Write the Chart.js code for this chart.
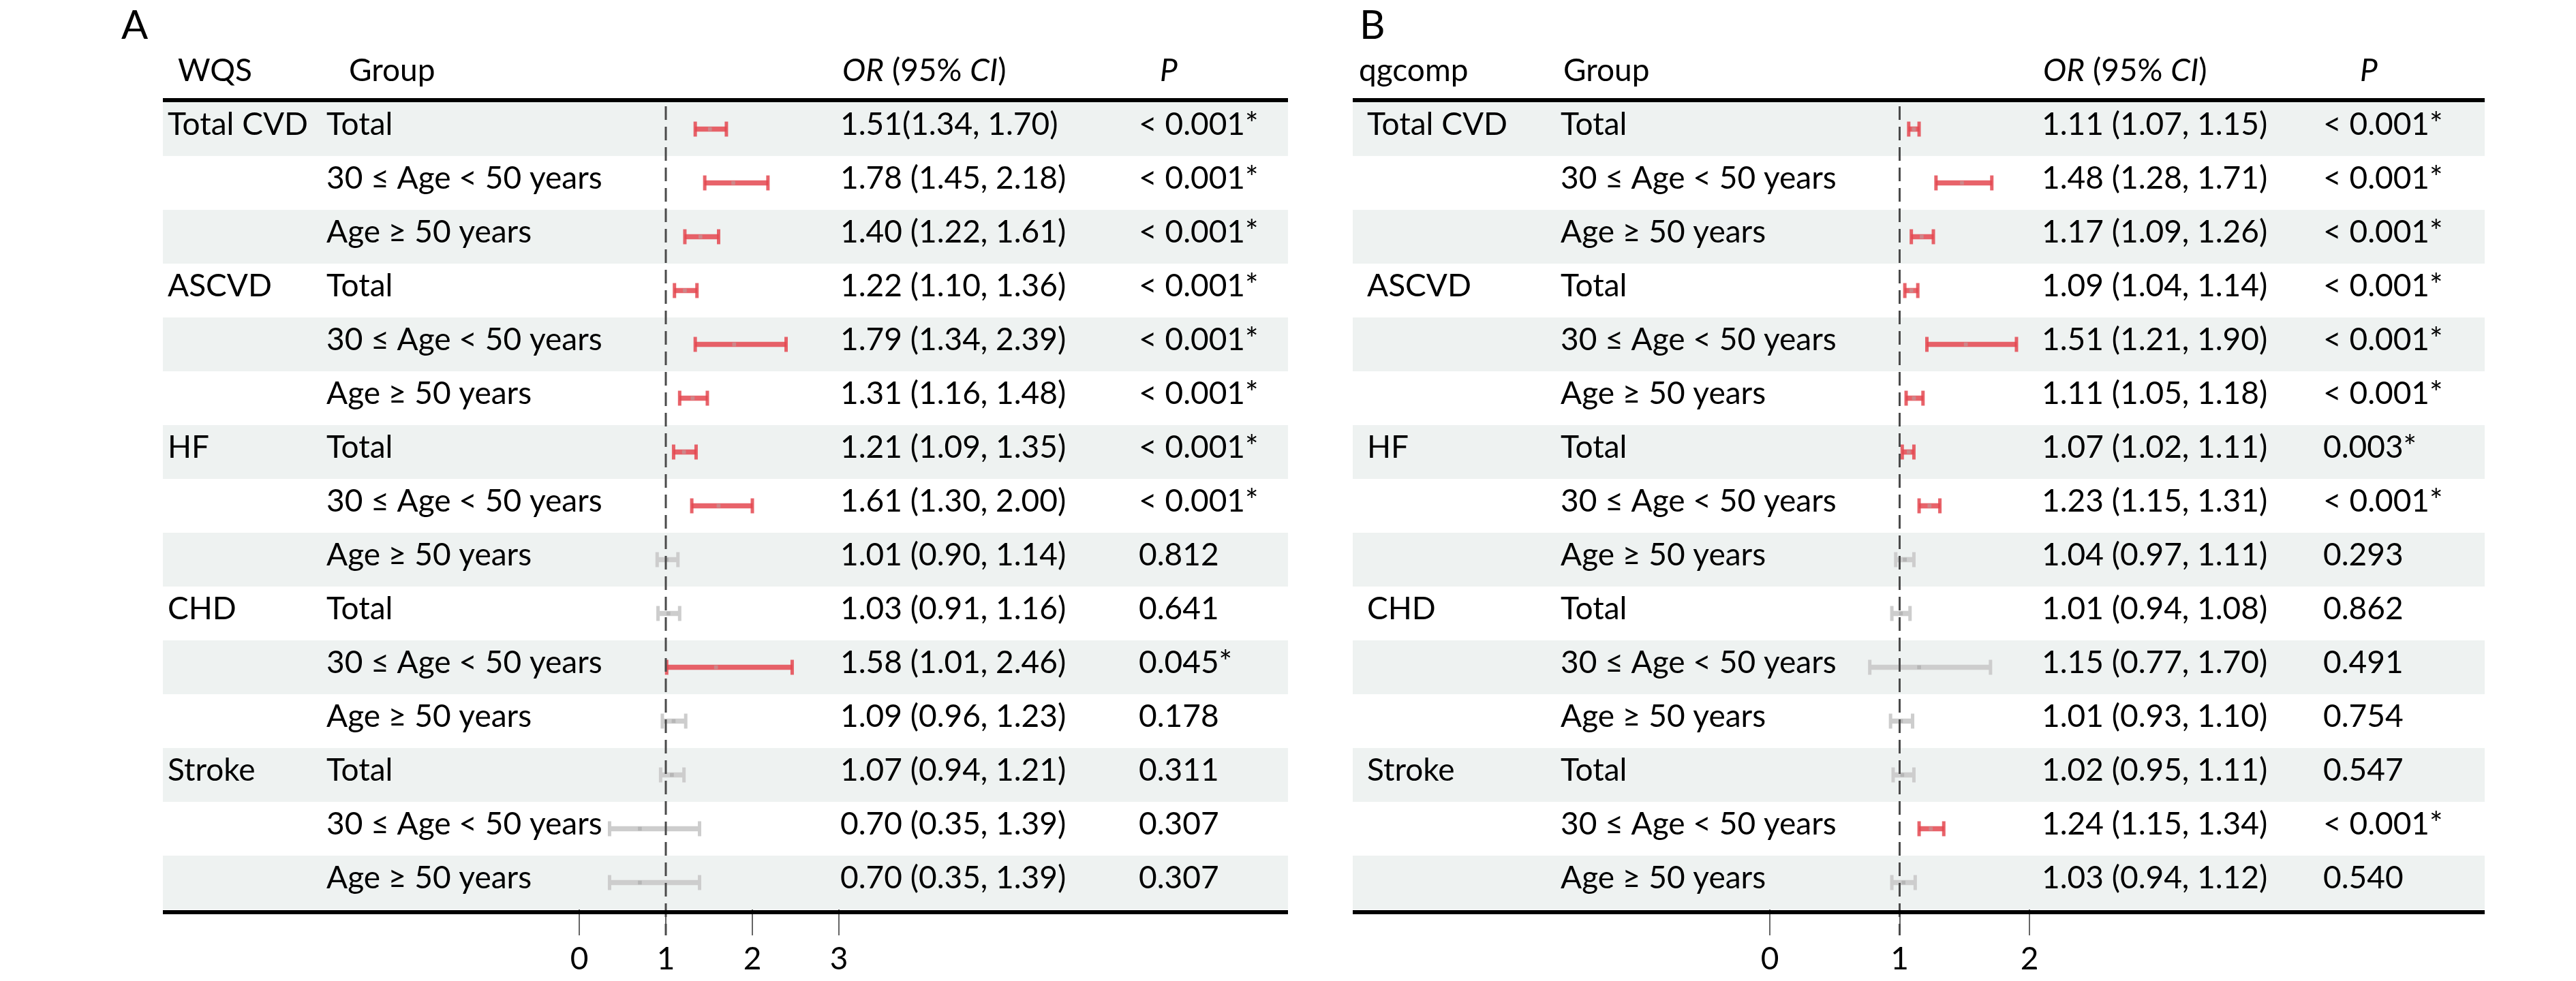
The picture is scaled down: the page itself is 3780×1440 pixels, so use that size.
<!DOCTYPE html>
<html>
<head>
<meta charset="utf-8">
<script src="https://cdn.jsdelivr.net/npm/chart.js@4.4.1/dist/chart.umd.min.js"></script>
<style>
  html, body { margin: 0; padding: 0; background: #fff; }
  #wrap { position: relative; width: 3780px; height: 1440px; }
  canvas { position: absolute; top: 0; }
</style>
</head>
<body>
<div id="wrap">
  <canvas id="chartA" width="1890" height="1440" style="left:0px"></canvas>
  <canvas id="chartB" width="1890" height="1440" style="left:1890px"></canvas>
</div>
<script>
// rows of the table (same for both panels)
const outcomes = ['Total CVD', '', '', 'ASCVD', '', '', 'HF', '', '', 'CHD', '', '', 'Stroke', '', ''];
const groups = [
  'Total', '30 ≤ Age < 50 years', 'Age ≥ 50 years',
  'Total', '30 ≤ Age < 50 years', 'Age ≥ 50 years',
  'Total', '30 ≤ Age < 50 years', 'Age ≥ 50 years',
  'Total', '30 ≤ Age < 50 years', 'Age ≥ 50 years',
  'Total', '30 ≤ Age < 50 years', 'Age ≥ 50 years'
];

// A: WQS
const wqsOR   = [1.51, 1.78, 1.40, 1.22, 1.79, 1.31, 1.21, 1.61, 1.01, 1.03, 1.58, 1.09, 1.07, 0.70, 0.70];
const wqsLow  = [1.34, 1.45, 1.22, 1.10, 1.34, 1.16, 1.09, 1.30, 0.90, 0.91, 1.01, 0.96, 0.94, 0.35, 0.35];
const wqsHigh = [1.70, 2.18, 1.61, 1.36, 2.39, 1.48, 1.35, 2.00, 1.14, 1.16, 2.46, 1.23, 1.21, 1.39, 1.39];
const wqsText = ['1.51(1.34, 1.70)', '1.78 (1.45, 2.18)', '1.40 (1.22, 1.61)', '1.22 (1.10, 1.36)',
  '1.79 (1.34, 2.39)', '1.31 (1.16, 1.48)', '1.21 (1.09, 1.35)', '1.61 (1.30, 2.00)', '1.01 (0.90, 1.14)',
  '1.03 (0.91, 1.16)', '1.58 (1.01, 2.46)', '1.09 (0.96, 1.23)', '1.07 (0.94, 1.21)', '0.70 (0.35, 1.39)',
  '0.70 (0.35, 1.39)'];
const wqsP = ['< 0.001*', '< 0.001*', '< 0.001*', '< 0.001*', '< 0.001*', '< 0.001*', '< 0.001*', '< 0.001*',
  '0.812', '0.641', '0.045*', '0.178', '0.311', '0.307', '0.307'];
const wqsTicks = [0, 1, 2, 3];

// B: qgcomp
const qgOR   = [1.11, 1.48, 1.17, 1.09, 1.51, 1.11, 1.07, 1.23, 1.04, 1.01, 1.15, 1.01, 1.02, 1.24, 1.03];
const qgLow  = [1.07, 1.28, 1.09, 1.04, 1.21, 1.05, 1.02, 1.15, 0.97, 0.94, 0.77, 0.93, 0.95, 1.15, 0.94];
const qgHigh = [1.15, 1.71, 1.26, 1.14, 1.90, 1.18, 1.11, 1.31, 1.11, 1.08, 1.70, 1.10, 1.11, 1.34, 1.12];
const qgText = ['1.11 (1.07, 1.15)', '1.48 (1.28, 1.71)', '1.17 (1.09, 1.26)', '1.09 (1.04, 1.14)',
  '1.51 (1.21, 1.90)', '1.11 (1.05, 1.18)', '1.07 (1.02, 1.11)', '1.23 (1.15, 1.31)', '1.04 (0.97, 1.11)',
  '1.01 (0.94, 1.08)', '1.15 (0.77, 1.70)', '1.01 (0.93, 1.10)', '1.02 (0.95, 1.11)', '1.24 (1.15, 1.34)',
  '1.03 (0.94, 1.12)'];
const qgP = ['< 0.001*', '< 0.001*', '< 0.001*', '< 0.001*', '< 0.001*', '< 0.001*', '0.003*', '< 0.001*',
  '0.293', '0.862', '0.491', '0.754', '0.547', '< 0.001*', '0.540'];
const qgTicks = [0, 1, 2];

const FONT = 'Lato';
const FS = 46;
const RED = 'rgba(228, 72, 80, 0.85)';
const RED_PT = 'rgba(205, 135, 138, 1)';
const GREY = 'rgba(205, 205, 205, 1)';
const GREY_PT = 'rgba(182, 182, 182, 1)';
const W = 1890, H = 1440;
const TOP = 150, BOTTOM = 1335;   // table body
const AXIS_H = 100;

// layout of the two panels (absolute page pixels)
const panels = [
  { id: 'chartA', offset: 0, letter: 'A', method: 'WQS',
    est: wqsOR, low: wqsLow, high: wqsHigh, text: wqsText, p: wqsP, ticks: wqsTicks,
    tableL: 239, tableR: 1898, plotL: 850, plotR: 1231,
    xOut: 246, xGroup: 479, xHeadMethod: 261, xHeadGroup: 512,
    xOR: 1233, xHeadOR: 1236, xP: 1671, xHeadP: 1702, xLetter: 178 },
  { id: 'chartB', offset: 1890, letter: 'B', method: 'qgcomp',
    est: qgOR, low: qgLow, high: qgHigh, text: qgText, p: qgP, ticks: qgTicks,
    tableL: 1985, tableR: 3646, plotL: 2597, plotR: 2978,
    xOut: 2006, xGroup: 2290, xHeadMethod: 1994, xHeadGroup: 2294,
    xOR: 2996, xHeadOR: 2998, xP: 3409, xHeadP: 3463, xLetter: 1995 }
];

function drawParts(ctx, parts, x, y) {
  let cx = x;
  parts.forEach(([t, it]) => {
    ctx.font = (it ? 'italic ' : '') + FS + 'px ' + FONT;
    ctx.fillText(t, cx, y);
    cx += ctx.measureText(t).width;
  });
}

function tablePlugin(pn) {
  const o = pn.offset;
  const n = pn.est.length;
  const rowH = (BOTTOM - TOP) / n;
  return {
    id: 'table_' + pn.id,
    beforeDraw(chart) {
      const ctx = chart.ctx;
      ctx.save();
      ctx.fillStyle = '#EEF2F1';
      for (let i = 0; i < n; i += 2) {
        ctx.fillRect(pn.tableL - o, TOP + i * rowH, pn.tableR - pn.tableL, rowH);
      }
      ctx.restore();
    },
    afterDatasetsDraw(chart) {
      const ctx = chart.ctx;
      const xs = chart.scales.x;
      const x1 = xs.getPixelForValue(1);
      ctx.save();
      ctx.strokeStyle = '#4a4a4a';
      ctx.lineWidth = 3;
      ctx.setLineDash([20, 10]);
      ctx.beginPath();
      ctx.moveTo(x1, TOP + 6);
      ctx.lineTo(x1, BOTTOM + 38);
      ctx.stroke();
      ctx.restore();
    },
    afterDraw(chart) {
      const ctx = chart.ctx;
      ctx.save();
      ctx.fillStyle = '#000';
      ctx.textBaseline = 'alphabetic';
      ctx.textAlign = 'left';
      // panel letter
      ctx.font = '58px ' + FONT;
      ctx.fillText(pn.letter, pn.xLetter - o, 57);
      // header
      ctx.font = FS + 'px ' + FONT;
      ctx.fillText(pn.method, pn.xHeadMethod - o, 119);
      ctx.fillText('Group', pn.xHeadGroup - o, 119);
      drawParts(ctx, [['OR', true], [' (95% ', false], ['CI', true], [')', false]], pn.xHeadOR - o, 119);
      drawParts(ctx, [['P', true]], pn.xHeadP - o, 119);
      // body
      ctx.font = FS + 'px ' + FONT;
      for (let i = 0; i < n; i++) {
        const yb = TOP + i * rowH + 48;
        ctx.fillText(outcomes[i], pn.xOut - o, yb);
        ctx.fillText(groups[i], pn.xGroup - o, yb);
        ctx.fillText(pn.text[i], pn.xOR - o, yb);
        ctx.fillText(pn.p[i], pn.xP - o, yb);
      }
      // rules
      ctx.strokeStyle = '#000';
      ctx.lineWidth = 6;
      ctx.beginPath();
      ctx.moveTo(pn.tableL - o, TOP - 3);
      ctx.lineTo(pn.tableR - o, TOP - 3);
      ctx.moveTo(pn.tableL - o, BOTTOM + 4);
      ctx.lineTo(pn.tableR - o, BOTTOM + 4);
      ctx.stroke();
      ctx.restore();
    }
  };
}

function makeChart(pn) {
  const sig = pn.p.map(s => s.indexOf('*') >= 0);
  const barCol = sig.map(s => s ? RED : GREY);
  const ptCol = sig.map(s => s ? RED_PT : GREY_PT);
  const capData = pn.low.map((v, i) => ({ x: v, y: i + 1 }))
    .concat(pn.high.map((v, i) => ({ x: v, y: i + 1 })));
  const capCol = barCol.concat(barCol);

  new Chart(document.getElementById(pn.id), {
    type: 'scatter',
    data: {
      datasets: [
        { // confidence interval line
          type: 'bar', indexAxis: 'y',
          data: pn.low.map((v, i) => ({ x: [v, pn.high[i]], y: i + 1 })),
          backgroundColor: barCol, borderWidth: 0, barThickness: 7, order: 3
        },
        { // whisker caps
          data: capData, pointStyle: 'line', rotation: 90, radius: 11,
          borderWidth: 5, borderColor: capCol, order: 2
        },
        { // point estimate
          data: pn.est.map((v, i) => ({ x: v, y: i + 1 })),
          pointStyle: 'rect', radius: 4, borderWidth: 0, backgroundColor: ptCol, order: 1
        }
      ]
    },
    options: {
      responsive: false,
      animation: false,
      devicePixelRatio: 1,
      clip: false,
      layout: {
        padding: { left: pn.plotL - pn.offset, right: W - (pn.plotR - pn.offset), top: TOP, bottom: H - BOTTOM - AXIS_H }
      },
      plugins: { legend: { display: false }, tooltip: { enabled: false } },
      scales: {
        x: {
          type: 'linear', position: 'bottom', offset: false,
          min: pn.ticks[0], max: pn.ticks[pn.ticks.length - 1],
          afterBuildTicks: s => { s.ticks = pn.ticks.map(v => ({ value: v })); },
          afterFit: s => { s.height = AXIS_H; },
          grid: { offset: false, drawOnChartArea: false, drawTicks: true, tickLength: 38, color: '#666', lineWidth: 2 },
          border: { display: false },
          ticks: { font: { family: FONT, size: FS }, color: '#000', padding: 8, maxRotation: 0, autoSkip: false }
        },
        y: {
          type: 'linear', offset: false, grid: { offset: false },
          min: 0.5, max: pn.est.length + 0.5, reverse: true, display: false
        }
      }
    },
    plugins: [tablePlugin(pn)]
  });
}

panels.forEach(makeChart);
</script>
</body>
</html>
